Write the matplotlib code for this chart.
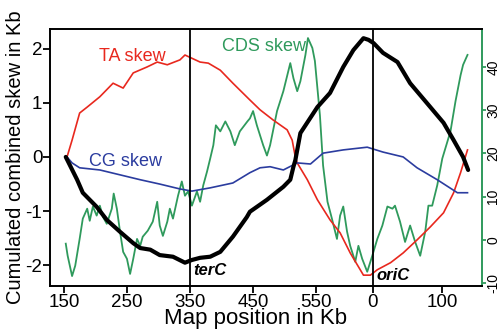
import numpy as np
import matplotlib
matplotlib.use("Agg")
import matplotlib.pyplot as plt

plt.rcParams['font.family'] = ['Liberation Sans', 'DejaVu Sans']

# map position (kb, continued past the origin: 640 = oriC = 0 kb)
tick_pos = [150, 250, 350, 450, 550, 640, 750]
tick_lab = ['150', '250', '350', '450', '550', '0', '100']
ter_pos = 350
ori_pos = 640

# cumulated combined skew (black, left axis)
comb_x = [153, 171, 180, 202, 218, 239, 260, 271, 287, 302, 323, 342, 353, 366, 382,
          398, 418, 440, 445, 472, 498, 509, 514, 517, 525, 552, 572, 593, 609, 625,
          633, 641, 656, 679, 699, 731, 752, 768, 783, 791]
comb_y = [0, -0.42, -0.66, -0.92, -1.16, -1.38, -1.59, -1.68, -1.71, -1.81, -1.84, -1.95,
          -1.90, -1.86, -1.84, -1.75, -1.47, -1.11, -1.01, -0.79, -0.55, -0.42, -0.18,
          -0.06, 0.44, 0.92, 1.18, 1.66, 1.97, 2.19, 2.16, 2.10, 1.92, 1.75, 1.36, 0.92,
          0.63, 0.31, 0.0, -0.24]

# TA skew (red, left axis)
ta_x = [155, 163, 175, 187, 207, 228, 244, 260, 282, 298, 314, 334, 342, 353, 366, 379,
        398, 418, 445, 461, 482, 504, 512, 517, 520, 536, 552, 572, 588, 604, 625, 636,
        647, 668, 688, 710, 731, 752, 768, 779, 790]
ta_y = [0, 0.31, 0.81, 0.92, 1.11, 1.36, 1.27, 1.55, 1.66, 1.75, 1.70, 1.79, 1.88, 1.82,
        1.75, 1.73, 1.60, 1.36, 1.05, 0.87, 0.68, 0.50, 0.31, 0.0, -0.11, -0.42, -0.79,
        -1.16, -1.40, -1.77, -2.18, -2.18, -2.08, -1.95, -1.77, -1.53, -1.29, -1.03,
        -0.66, -0.29, 0.13]

# CG skew (blue, left axis)
cg_x = [155, 163, 175, 207, 239, 271, 302, 334, 353, 382, 418, 445, 461, 477, 498, 520,
        541, 561, 593, 631, 656, 688, 710, 742, 774, 790]
cg_y = [0, -0.11, -0.20, -0.24, -0.33, -0.42, -0.50, -0.59, -0.63, -0.57, -0.48, -0.29,
        -0.20, -0.18, -0.24, -0.11, -0.13, 0.07, 0.13, 0.18, 0.09, 0.0, -0.20, -0.42,
        -0.66, -0.66]

# CDS skew (green, right axis)
cds_x = [153, 156, 163, 168, 175, 180, 187, 191, 196, 202, 207, 212, 218, 226, 229, 234,
         239, 244, 250, 255, 260, 266, 271, 275, 283, 291, 298, 302, 307, 314, 318, 323,
         331, 337, 342, 347, 353, 361, 366, 371, 377, 382, 387, 391, 398, 406, 414, 421,
         429, 441, 445, 450, 456, 466, 472, 477, 488, 498, 509, 514, 520, 525, 533, 537,
         544, 548, 556, 561, 568, 575, 583, 588, 593, 599, 604, 612, 617, 623, 631, 639,
         647, 655, 663, 671, 675, 683, 691, 699, 707, 715, 723, 728, 734, 742, 750, 763,
         771, 779, 783, 790]
cds_y = [-0.9, -3.7, -8.4, -6.0, 0.2, 4.9, 7.2, 4.4, 7.7, 5.6, 7.9, 5.3, 3.7, 7.2, 10.7,
         7.2, 1.9, -2.8, -4.4, -7.9, -4.4, 0.2, -1.4, 0.7, 2.1, 4.2, 8.8, 3.3, 0.9, 4.2,
         7.2, 4.9, 10.2, 13.5, 10.2, 11.2, 7.9, 11.2, 8.8, 12.6, 15.8, 18.8, 21.9, 26.5,
         25.1, 27.4, 25.1, 21.9, 25.1, 27.4, 28.1, 29.8, 26.5, 21.9, 19.5, 21.9, 29.8,
         34.4, 40.9, 37.4, 34.4, 36.7, 42.8, 46.7, 44.4, 41.4, 28.8, 17.2, 8.8, 4.9, 0.2,
         5.6, 7.7, 1.9, -1.4, -5.1, -1.4, -4.4, -7.4, -3.7, 0.2, 3.3, 7.7, 7.2, 7.9, 4.2,
         -0.5, 3.3, -0.5, -3.7, 1.9, 7.9, 7.9, 12.6, 18.8, 25.1, 32.1, 38.1, 40.5, 42.8]

red = '#e8281e'
green = '#2f9a5c'
blue = '#2b3c9f'

fig = plt.figure(figsize=(4.98, 3.29), dpi=100)
ax = fig.add_axes([0.1004, 0.1307, 0.8675, 0.7812])
ax2 = ax.twinx()

ax2.plot(cds_x, cds_y, color=green, lw=1.3)
ax.plot(ta_x, ta_y, color=red, lw=1.2)
ax.plot(cg_x, cg_y, color=blue, lw=1.2)
ax.plot(comb_x, comb_y, color='black', lw=3.0, solid_capstyle='round', solid_joinstyle='round')
ax.axvline(ter_pos, color='black', lw=1.3)
ax.axvline(ori_pos, color='black', lw=1.3)

ax.set_zorder(ax2.get_zorder() + 1)
ax.patch.set_visible(False)

ax.set_xlim(128, 813)
ax.set_ylim(-2.38, 2.36)
ax2.set_ylim(-10.7, 48.8)

ax.set_xticks(tick_pos)
ax.set_xticklabels(tick_lab)
ax.set_yticks([-2, -1, 0, 1, 2])
ax.set_yticklabels(['-2', '-1', '0', '1', '2'])
ax2.set_yticks([-10, 0, 10, 20, 30, 40])
ax2.set_yticklabels(['-10', '0', '10', '20', '30', '40'])

ax.tick_params(axis='x', labelsize=13.5, length=5, width=1.3, pad=1)
ax.tick_params(axis='y', labelsize=13.5, length=5, width=1.3, pad=0.5)
ax2.tick_params(axis='y', labelsize=10, length=3, width=1.3, color=green, pad=0,
                labelrotation=90)
for lab in ax2.get_yticklabels():
    lab.set_va('center')

for sp in ['left', 'top', 'bottom']:
    ax.spines[sp].set_linewidth(1.4)
ax.spines['right'].set_visible(False)
for sp in ['left', 'top', 'bottom']:
    ax2.spines[sp].set_visible(False)
ax2.spines['right'].set_color(green)
ax2.spines['right'].set_linewidth(1.4)

ax.set_ylabel('Cumulated combined skew in Kb', fontsize=14.5, labelpad=0)
ax.yaxis.set_label_coords(-0.057, 0.5)
ax.set_xlabel('Map position in Kb', fontsize=16)
ax.xaxis.set_label_coords(0.475, -0.085)

ax.text(259, 1.85, 'TA skew', color=red, fontsize=13, ha='center', va='center')
ax.text(468, 2.03, 'CDS skew', color=green, fontsize=13, ha='center', va='center')
ax.text(248, -0.09, 'CG skew', color=blue, fontsize=13, ha='center', va='center')
ax.text(ter_pos + 5, -2.09, 'terC', fontsize=12, fontweight='bold', fontstyle='italic',
        ha='left', va='center')
ax.text(ori_pos + 6, -2.19, 'oriC', fontsize=12, fontweight='bold', fontstyle='italic',
        ha='left', va='center')

fig.savefig('out.png', dpi=100)
